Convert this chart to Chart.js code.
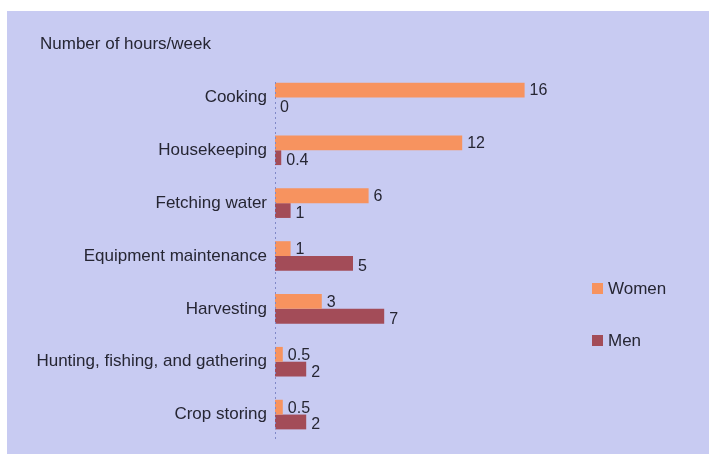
<!DOCTYPE html>
<html>
<head>
<meta charset="utf-8">
<script src="https://cdn.jsdelivr.net/npm/chart.js@4.4.1/dist/chart.umd.min.js"></script>
<style>
  html, body { margin: 0; padding: 0; background: #ffffff; }
  #wrap {
    position: absolute; left: 7px; top: 11px;
    width: 702px; height: 443px;
    background: #c8cbf2;
  }
</style>
</head>
<body>
<div id="wrap"><canvas id="hoursChart" width="702" height="443"></canvas></div>
<script>
// Weekly hours spent per task, by sex
const tasks = ['Cooking', 'Housekeeping', 'Fetching water', 'Equipment maintenance',
               'Harvesting', 'Hunting, fishing, and gathering', 'Crop storing'];
const womenHours = [16, 12, 6, 1, 3, 0.5, 0.5];
const menHours = [0, 0.4, 1, 5, 7, 2, 2];
const seriesNames = ['Women', 'Men'];

const FONT = '"Liberation Sans", Arial, sans-serif';
const TEXT = '#262633';

// Value labels at the end of each bar
const valueLabels = {
    id: 'valueLabels',
    afterDatasetsDraw(chart) {
        const ctx = chart.ctx;
        ctx.save();
        ctx.font = '16px ' + FONT;
        ctx.fillStyle = TEXT;
        ctx.textBaseline = 'middle';
        ctx.textAlign = 'left';
        chart.data.datasets.forEach((ds, di) => {
            chart.getDatasetMeta(di).data.forEach((bar, i) => {
                ctx.fillText(String(ds.data[i]), bar.x + 5, bar.y + 1 + di * 2);
            });
        });
        ctx.restore();
    }
};

// Title at top left, dotted category axis and the legend on the right
const decorations = {
    id: 'decorations',
    afterDraw(chart) {
        const ctx = chart.ctx;
        const area = chart.chartArea;
        ctx.save();
        ctx.strokeStyle = '#8088c8';
        ctx.lineWidth = 1;
        ctx.setLineDash([2, 3]);
        ctx.beginPath();
        ctx.moveTo(area.left + 0.5, area.top + 11);
        ctx.lineTo(area.left + 0.5, area.bottom);
        ctx.stroke();
        ctx.setLineDash([]);

        ctx.font = '17px ' + FONT;
        ctx.fillStyle = TEXT;
        ctx.textBaseline = 'middle';
        ctx.textAlign = 'left';
        ctx.fillText('Number of hours/week', 33, 33);

        const rows = [277, 329];
        chart.data.datasets.forEach((ds, di) => {
            ctx.fillStyle = ds.backgroundColor;
            ctx.fillRect(585, rows[di] - 5, 11, 11);
            ctx.fillStyle = TEXT;
            ctx.fillText(ds.label, 601, rows[di] + 1);
        });
        ctx.restore();
    }
};

new Chart(document.getElementById('hoursChart').getContext('2d'), {
    type: 'bar',
    data: {
        labels: tasks,
        datasets: [{
            label: seriesNames[0],
            data: womenHours,
            backgroundColor: '#f7935f',
            categoryPercentage: 0.56,
            barPercentage: 1.0
        }, {
            label: seriesNames[1],
            data: menHours,
            backgroundColor: '#a34c58',
            categoryPercentage: 0.56,
            barPercentage: 1.0
        }]
    },
    options: {
        indexAxis: 'y',
        responsive: false,
        animation: false,
        layout: { padding: { top: 60, bottom: 13, left: 0, right: 122 } },
        scales: {
            x: {
                display: false,
                min: 0,
                max: 20
            },
            y: {
                afterFit: scale => { scale.width = 268; },
                grid: { display: false },
                border: { display: false },
                ticks: {
                    padding: 0,
                    color: TEXT,
                    font: { family: FONT, size: 17 }
                }
            }
        },
        plugins: {
            legend: { display: false },
            tooltip: { enabled: false }
        }
    },
    plugins: [valueLabels, decorations]
});
</script>
</body>
</html>
